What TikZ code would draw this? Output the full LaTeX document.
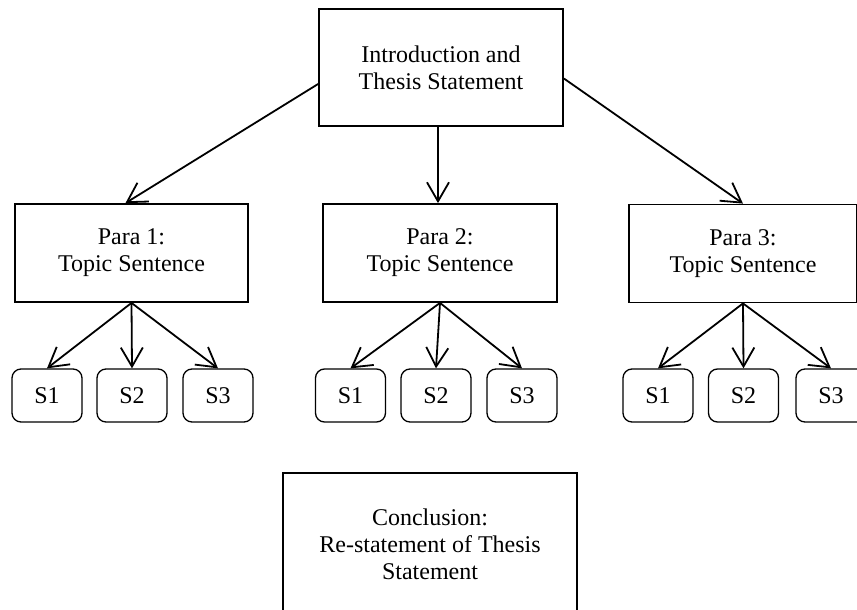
\documentclass[tikz,border=0pt]{standalone}
\usepackage{fontspec}
\setmainfont{Liberation Serif}
\usetikzlibrary{arrows.meta}
\begin{document}
\begin{tikzpicture}[x=1pt,y=-1pt,
  font=\fontsize{24}{27}\selectfont,
  box/.style={draw,line width=1.8pt,align=center,inner sep=0pt},
  sbox/.style={draw,line width=1.3pt,rounded corners=9pt,minimum width=70pt,minimum height=53pt,inner sep=0pt},
  arr/.style={line width=1.8pt,-{Straight Barb[length=19pt,width=22pt,line width=1.8pt]}}]
\useasboundingbox (0,0) rectangle (857,610);
\clip (0,0) rectangle (857,610);
\node[box,minimum width=244pt,minimum height=117pt] (top) at (441,67.5) {Introduction and\\Thesis Statement};
\node[box,minimum width=233pt,minimum height=98pt] (p1) at (131.5,253) {Para 1:\\Topic Sentence};
\node[box,minimum width=234pt,minimum height=98pt] (p2) at (440,253) {Para 2:\\Topic Sentence};
\node[box,minimum width=228pt,minimum height=98pt] (p3) at (743,253.5) {Para 3:\\Topic Sentence};
\node[sbox] (a1) at (47,395.5) {S1};
\node[sbox] (a2) at (132,395.5) {S2};
\node[sbox] (a3) at (218,395.5) {S3};
\node[sbox] (b1) at (350.5,395.5) {S1};
\node[sbox] (b2) at (436,395.5) {S2};
\node[sbox] (b3) at (522,395.5) {S3};
\node[sbox] (c1) at (658,395.5) {S1};
\node[sbox] (c2) at (743.5,395.5) {S2};
\node[sbox] (c3) at (831,395.5) {S3};
\node[box,minimum width=294pt,minimum height=142pt] (con) at (430,544) {Conclusion:\\Re-statement of Thesis\\Statement};
\draw[arr] ([yshift=-16.5pt]top.west) -- ([xshift=-6pt]p1.north);
\draw[arr] ([xshift=-3pt]top.south) -- ([xshift=-2pt]p2.north);
\draw[arr] ([yshift=-11pt]top.east) -- (p3.north);
\foreach \p/\s in {p1/a,p2/b,p3/c}{
  \draw[arr] (\p.south) -- (\s1.north);
  \draw[arr] (\p.south) -- (\s2.north);
  \draw[arr] (\p.south) -- (\s3.north);
}
\end{tikzpicture}
\end{document}
